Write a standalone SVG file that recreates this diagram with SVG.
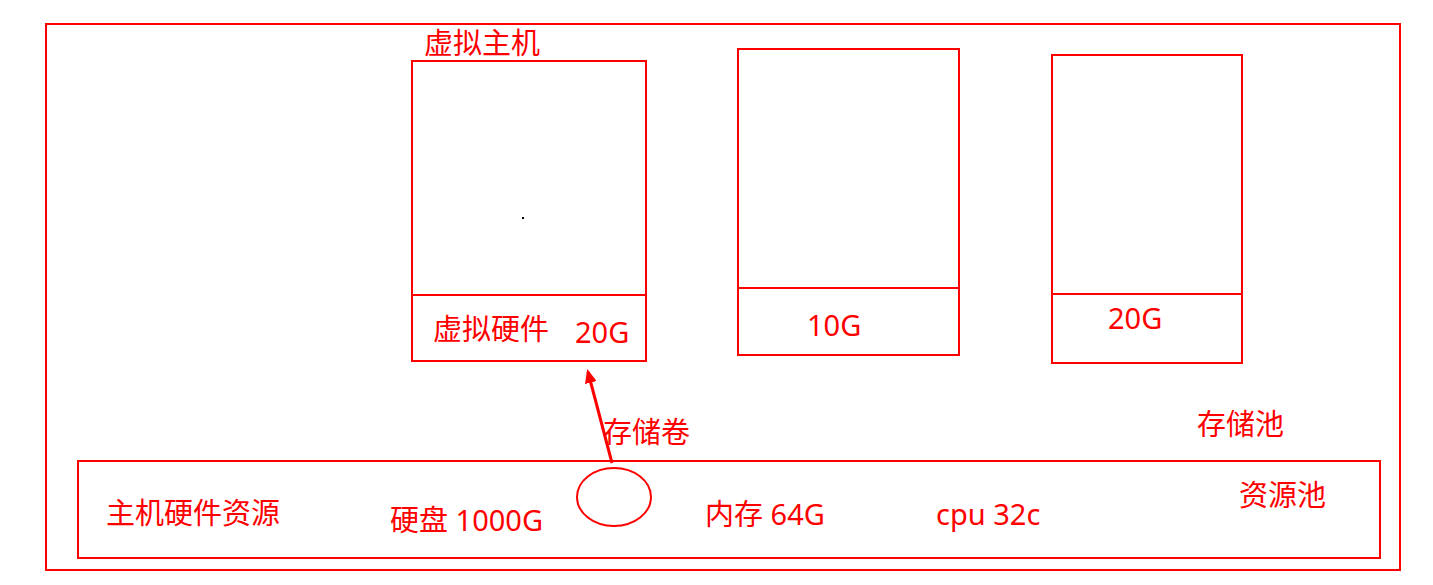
<svg xmlns="http://www.w3.org/2000/svg" width="1433" height="585" viewBox="0 0 1433 585">
<style>
.box{fill:none;stroke:#ff0000;stroke-width:2}
.t{fill:#ff0000;font-family:"Noto Sans","Noto Sans CJK SC",sans-serif;font-size:29px}
</style>
<defs>
<marker id="ah" markerWidth="14" markerHeight="12" refX="11" refY="6" orient="auto" markerUnits="userSpaceOnUse">
<path d="M0,0 L14,6 L0,12 Z" fill="#ff0000"/>
</marker>
</defs>
<rect width="1433" height="585" fill="#ffffff"/>
<g id="outer"><rect class="box" x="46" y="24" width="1354" height="546"/></g>
<g id="vm1">
<rect class="box" x="412" y="61" width="234" height="300"/>
<line class="box" x1="412" y1="295" x2="646" y2="295"/>
<text class="t" x="424" y="54">虚拟主机</text>
<text class="t" x="433" y="340">虚拟硬件</text>
<text class="t" x="575" y="343">20G</text>
<rect x="522" y="217" width="2" height="2" fill="#000"/>
</g>
<g id="vm2">
<rect class="box" x="738" y="49" width="221" height="306"/>
<line class="box" x1="738" y1="288" x2="959" y2="288"/>
<text class="t" x="807" y="336">10G</text>
</g>
<g id="vm3">
<rect class="box" x="1052" y="55" width="190" height="308"/>
<line class="box" x1="1052" y1="294" x2="1242" y2="294"/>
<text class="t" x="1108" y="329">20G</text>
</g>
<g id="labels">
<text class="t" x="603" y="443">存储卷</text>
<text class="t" x="1197" y="435">存储池</text>
</g>
<g id="host">
<rect class="box" x="78" y="461" width="1302" height="97"/>
<text class="t" x="106" y="524">主机硬件资源</text>
<text class="t" x="390" y="531">硬盘 1000G</text>
<text class="t" x="705" y="525">内存 64G</text>
<text class="t" x="936" y="525">cpu 32c</text>
<text class="t" x="1239" y="506">资源池</text>
</g>
<g id="volume"><ellipse class="box" cx="614" cy="497" rx="37" ry="29"/></g>
<g id="connectors">
<line x1="612" y1="463" x2="588" y2="372" stroke="#ff0000" stroke-width="3" marker-end="url(#ah)"/>
</g>
</svg>
